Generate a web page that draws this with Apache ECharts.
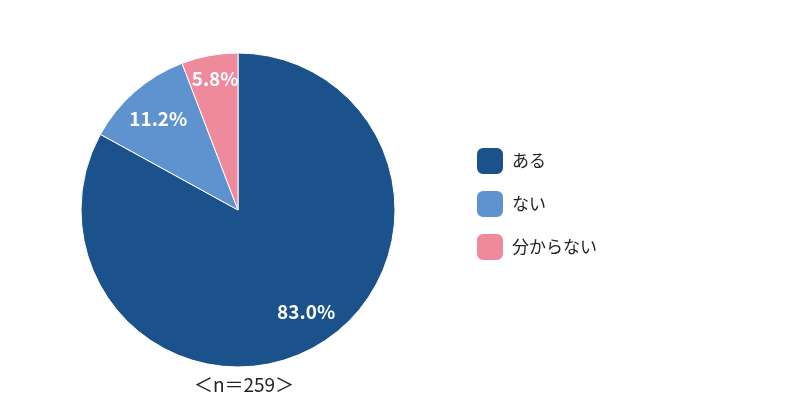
<!DOCTYPE html>
<html><head><meta charset="utf-8">
<script src="https://cdn.jsdelivr.net/npm/echarts@6/dist/echarts.min.js"></script>
<style>html,body{margin:0;padding:0;background:#fff}#c{width:800px;height:420px}</style>
</head><body><div id="c"></div>
<script>
const categories = ['ある', 'ない', '分からない'];
const values = [83.0, 11.2, 5.8];
const colors = ['#1B528C', '#5F93CF', '#EF8A9C'];
const noteText = '＜n＝259＞';

const font = '"Noto Sans CJK JP", "Noto Sans", sans-serif';
const chart = echarts.init(document.getElementById('c'));
const mainData = categories.map((c, i) => ({ name: c, value: values[i], itemStyle: { color: colors[i] } }));
const labelOffsets = [[4, -7], [3, 4], [0, -7]];
const labelData = categories.map((c, i) => ({
  name: c, value: values[i],
  label: { offset: labelOffsets[i] }
}));
chart.setOption({
  animation: false,
  textStyle: { fontFamily: font },
  legend: {
    orient: 'vertical', left: 475, top: 146, padding: 0,
    itemWidth: 28, itemHeight: 28, itemGap: 13,
    icon: 'roundRect',
    textStyle: { fontSize: 17, color: '#222', fontFamily: font, padding: [0, 0, 0, 3] },
    data: categories
  },
  title: {
    text: noteText, left: 244, top: 375, padding: 0, textAlign: 'center',
    textStyle: { fontSize: 19, fontWeight: 'normal', color: '#222', fontFamily: font }
  },
  series: [
    {
      type: 'pie', center: [238, 210], radius: [0, 157],
      startAngle: 90, clockwise: true,
      itemStyle: { borderColor: '#fff', borderWidth: 1 },
      label: { show: false }, labelLine: { show: false },
      data: mainData
    },
    {
      type: 'pie', center: [238, 210], radius: [89, 157],
      startAngle: 90, clockwise: true, silent: true,
      legendHoverLink: false,
      itemStyle: { color: 'rgba(0,0,0,0)' },
      label: {
        show: true, position: 'inside', color: '#fff', fontSize: 19, fontWeight: 'bold',
        fontFamily: font,
        formatter: p => p.value.toFixed(1) + '%'
      },
      labelLine: { show: false },
      data: labelData
    }
  ]
});
</script></body></html>
